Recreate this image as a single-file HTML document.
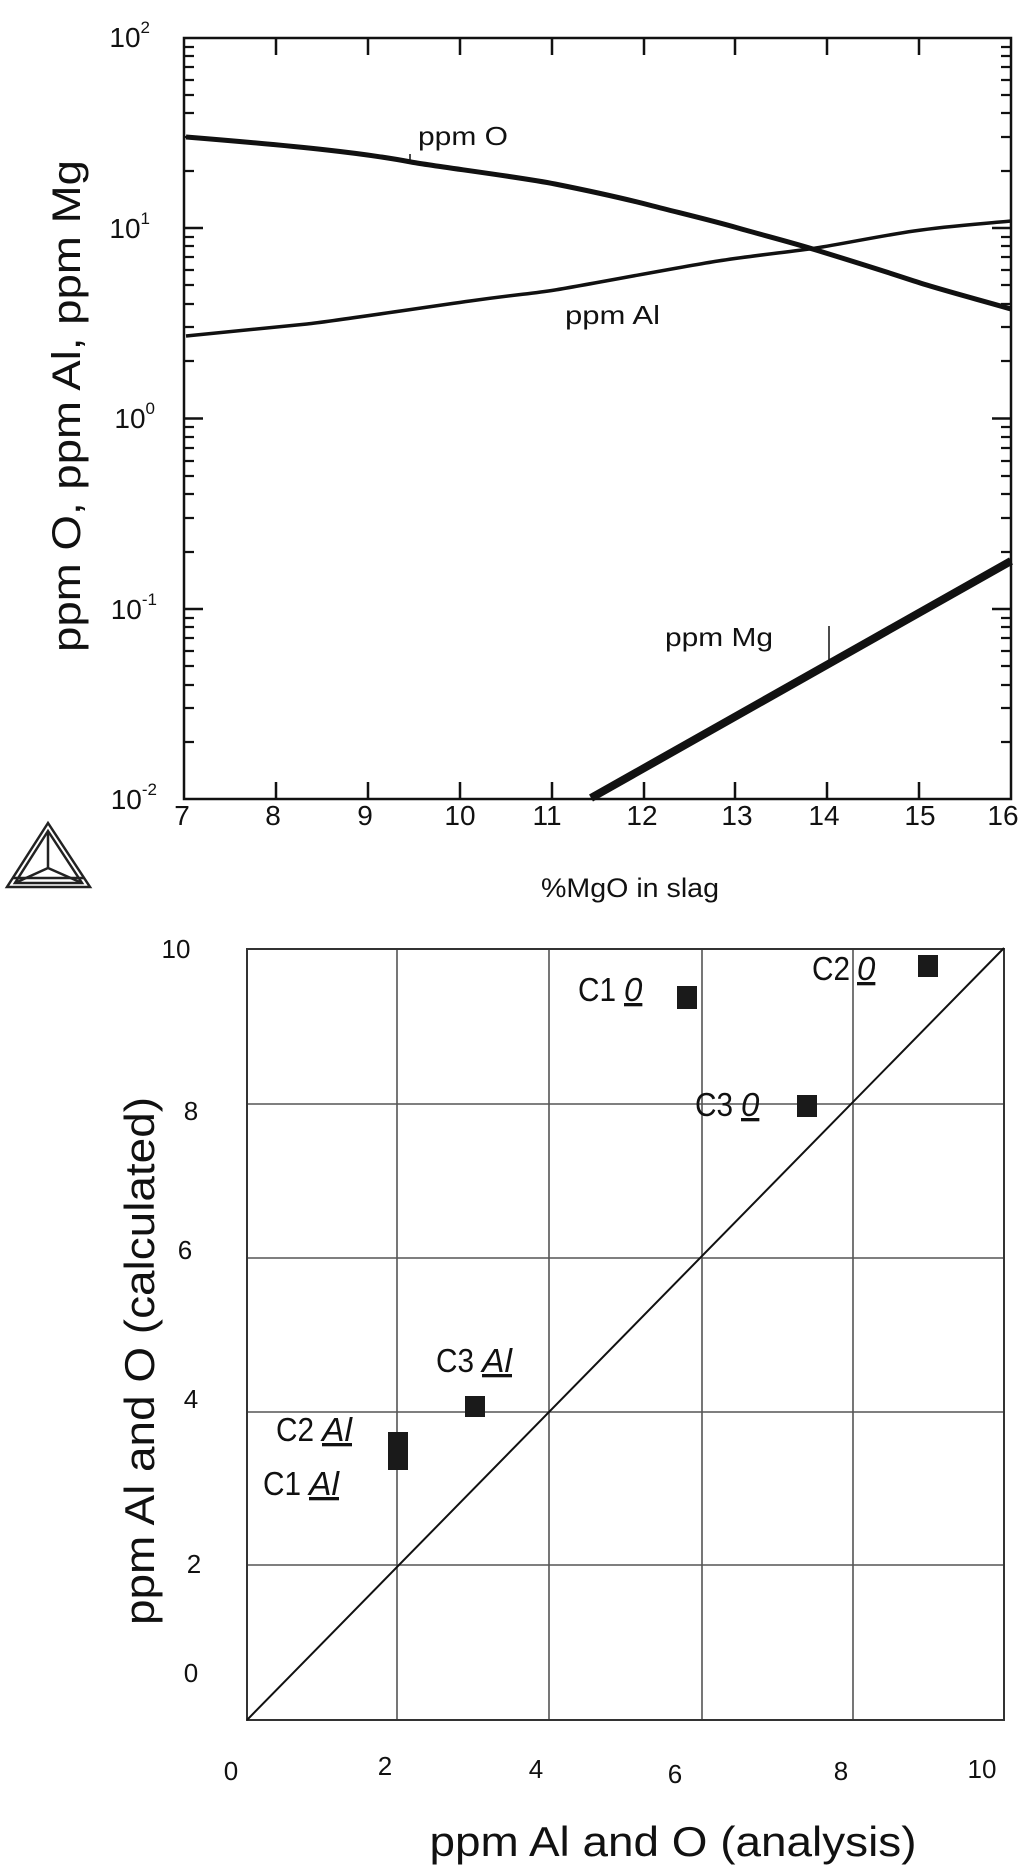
<!DOCTYPE html>
<html><head><meta charset="utf-8"><style>
html,body{margin:0;padding:0;background:#fff;}
svg{display:block;}
text{font-family:"Liberation Sans",sans-serif;fill:#111;}
</style></head><body>
<svg width="1024" height="1867" viewBox="0 0 1024 1867" xmlns="http://www.w3.org/2000/svg">
<!-- TOP PLOT -->
<rect x="184" y="38" width="827" height="761" fill="none" stroke="#111" stroke-width="2.5"/>
<g stroke="#111" stroke-width="2.5">
<path d="M276,38v17M368,38v17M460,38v17M552,38v17M644,38v17M735,38v17M827,38v17M919,38v17
M276,799v-17M368,799v-17M460,799v-17M552,799v-17M644,799v-17M735,799v-17M827,799v-17M919,799v-17"/>
<path d="M184,228h19M184,418.5h19M184,609h19M1011,228h-19M1011,418.5h-19M1011,609h-19"/>
</g>
<g stroke="#111" stroke-width="2.2">
<path d="
M184,742h10M184,708h10M184,685h10M184,666h10M184,651h10M184,638h10M184,627h10M184,618h10
M184,552h10M184,518h10M184,494h10M184,476h10M184,461h10M184,448h10M184,437h10M184,427h10
M184,361h10M184,327h10M184,304h10M184,285h10M184,270h10M184,257h10M184,246h10M184,237h10
M184,171h10M184,137h10M184,113h10M184,95h10M184,80h10M184,67h10M184,56h10M184,47h10
M1011,742h-10M1011,708h-10M1011,685h-10M1011,666h-10M1011,651h-10M1011,638h-10M1011,627h-10M1011,618h-10
M1011,552h-10M1011,518h-10M1011,494h-10M1011,476h-10M1011,461h-10M1011,448h-10M1011,437h-10M1011,427h-10
M1011,361h-10M1011,327h-10M1011,304h-10M1011,285h-10M1011,270h-10M1011,257h-10M1011,246h-10M1011,237h-10
M1011,171h-10M1011,137h-10M1011,113h-10M1011,95h-10M1011,80h-10M1011,67h-10M1011,56h-10M1011,47h-10"/>
</g>
<path d="M186,137 C260,143 300,147 327,150 S390,158 411,162 S520,177 555,184 S630,200 653,206 S710,220 738,228 S790,242 816,250 S890,273 914,281 S980,300 1011,309" fill="none" stroke="#111" stroke-width="5"/>
<path d="M186,336 C240,331 280,327 307,324 S420,308 470,301 S530,294 555,290 S680,267 718,261 S790,252 816,248 S880,236 914,231 S980,224 1011,221" fill="none" stroke="#111" stroke-width="3.5"/>
<path d="M591,798 L1011,561" fill="none" stroke="#111" stroke-width="8"/>
<path d="M410,154v8M829,626v34" stroke="#111" stroke-width="1.5"/>
<text x="418" y="145" font-size="26" textLength="90" lengthAdjust="spacingAndGlyphs">ppm O</text>
<text x="565" y="324" font-size="26" textLength="95" lengthAdjust="spacingAndGlyphs">ppm Al</text>
<text x="665" y="646" font-size="26" textLength="108" lengthAdjust="spacingAndGlyphs">ppm Mg</text>
<g font-size="28" text-anchor="end">
<text x="150" y="47">10<tspan font-size="17" dy="-14">2</tspan></text>
<text x="150" y="238">10<tspan font-size="17" dy="-14">1</tspan></text>
<text x="155" y="428">10<tspan font-size="17" dy="-14">0</tspan></text>
<text x="157" y="619">10<tspan font-size="17" dy="-14">-1</tspan></text>
<text x="157" y="809">10<tspan font-size="17" dy="-14">-2</tspan></text>
</g>
<g font-size="28" text-anchor="middle">
<text x="182" y="825">7</text><text x="273" y="825">8</text><text x="365" y="825">9</text>
<text x="460" y="825">10</text><text x="547" y="825">11</text><text x="642" y="825">12</text>
<text x="737" y="825">13</text><text x="824" y="825">14</text><text x="920" y="825">15</text>
<text x="1003" y="825">16</text>
</g>
<text x="630" y="897" font-size="27" text-anchor="middle" textLength="178" lengthAdjust="spacingAndGlyphs">%MgO in slag</text>
<text transform="translate(80,406) rotate(-90)" font-size="40" text-anchor="middle" textLength="492" lengthAdjust="spacingAndGlyphs">ppm O, ppm Al, ppm Mg</text>
<g fill="none" stroke="#222" stroke-width="2.5">
<path d="M48,823 L7,887 L90,887 Z"/>
<path d="M48,831 L15,883 L82,883 Z"/>
<path d="M48,831 L48,868 M15,883 L48,868 M82,883 L48,868"/>
<path d="M13,878 H84"/>
</g>

<!-- BOTTOM PLOT -->
<g stroke="#555" stroke-width="1.6">
<path d="M397,949V1720M549,949V1720M702,949V1720M853,949V1720
M247,1104H1004M247,1258H1004M247,1412H1004M247,1565H1004"/>
</g>
<rect x="247" y="949" width="757" height="771" fill="none" stroke="#333" stroke-width="2"/>
<path d="M247,1720 L1004,948" stroke="#111" stroke-width="2"/>
<g fill="#1a1a1a">
<rect x="677" y="986" width="20" height="23"/>
<rect x="918" y="955" width="20" height="22"/>
<rect x="797" y="1095" width="20" height="22"/>
<rect x="465" y="1396" width="20" height="21"/>
<rect x="388" y="1432" width="20" height="38"/>
</g>
<g font-size="33">
<text x="578" y="1001" textLength="38" lengthAdjust="spacingAndGlyphs">C1</text>
<text x="624" y="1001" font-style="italic" text-decoration="underline">0</text>
<text x="812" y="980" textLength="38" lengthAdjust="spacingAndGlyphs">C2</text>
<text x="857" y="980" font-style="italic" text-decoration="underline">0</text>
<text x="695" y="1116" textLength="38" lengthAdjust="spacingAndGlyphs">C3</text>
<text x="741" y="1116" font-style="italic" text-decoration="underline">0</text>
<text x="436" y="1372" textLength="38" lengthAdjust="spacingAndGlyphs">C3</text>
<text x="482" y="1372" font-style="italic" text-decoration="underline" textLength="30" lengthAdjust="spacingAndGlyphs">Al</text>
<text x="276" y="1441" textLength="38" lengthAdjust="spacingAndGlyphs">C2</text>
<text x="322" y="1441" font-style="italic" text-decoration="underline" textLength="30" lengthAdjust="spacingAndGlyphs">Al</text>
<text x="263" y="1495" textLength="38" lengthAdjust="spacingAndGlyphs">C1</text>
<text x="309" y="1495" font-style="italic" text-decoration="underline" textLength="30" lengthAdjust="spacingAndGlyphs">Al</text>
</g>
<g font-size="26" text-anchor="middle">
<text x="176" y="958">10</text>
<text x="191" y="1120">8</text>
<text x="185" y="1259">6</text>
<text x="191" y="1408">4</text>
<text x="194" y="1573">2</text>
<text x="191" y="1682">0</text>
<text x="231" y="1780">0</text>
<text x="385" y="1775">2</text>
<text x="536" y="1778">4</text>
<text x="675" y="1783">6</text>
<text x="841" y="1780">8</text>
<text x="982" y="1778">10</text>
</g>
<text x="673" y="1856" font-size="42" text-anchor="middle" textLength="487" lengthAdjust="spacingAndGlyphs">ppm Al and O (analysis)</text>
<text transform="translate(154,1361) rotate(-90)" font-size="42" text-anchor="middle" textLength="528" lengthAdjust="spacingAndGlyphs">ppm Al and O (calculated)</text>
</svg>
</body></html>
